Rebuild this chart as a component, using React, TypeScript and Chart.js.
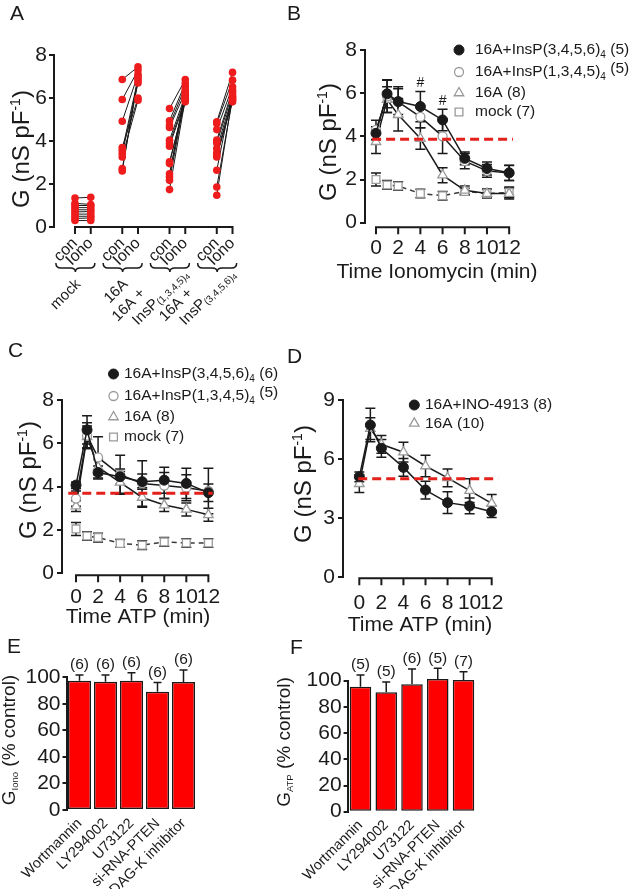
import React, { useEffect, useRef } from 'react';
import { Chart, registerables } from 'chart.js';

Chart.register(...registerables);

const FONT = '"Liberation Sans", Arial, Helvetica, sans-serif';
Chart.defaults.font.family = FONT;

const INK = '#1a1a1a';
const BAR_RED = '#ff0000';
const POINT_RED = '#ee1c1c';
const DASH_RED = '#e3201b';
const MARK_GRAY = '#9a9a9a';

// ---------------- Panel A data ----------------
const aPairLabels = ['con', 'Iono'];
const aGroupLine1 = ['mock', '16A', '16A +', '16A +'];
const aGroupInsP = ['', '', '(1,3,4,5)', '(3,4,5,6)'];
const aConPos = [0, 3, 6, 9];
const aIonoPos = [1, 4, 7, 10];
const aMockCon = [1.35, 1.1, 1.0, 0.9, 0.8, 0.7, 0.6, 0.5, 0.4, 0.3];
const aMockIono = [1.38, 1.05, 1.0, 0.9, 0.8, 0.72, 0.6, 0.5, 0.42, 0.3];
const a16ACon = [6.86, 5.93, 4.92, 3.7, 3.57, 3.42, 3.26, 2.72, 2.61];
const a16AIono = [7.45, 7.3, 7.1, 6.0, 6.9, 6.7, 5.9, 6.8, 7.0];
const a1345Con = [5.51, 4.94, 4.74, 4.63, 4.04, 3.88, 3.76, 3.03, 2.95, 2.48, 2.33, 2.17, 1.74];
const a1345Iono = [6.86, 6.68, 6.52, 6.29, 6.13, 5.98, 5.9, 5.82, 6.0, 6.2, 6.4, 6.1, 5.95];
const a3456Con = [4.89, 4.81, 4.53, 4.04, 3.91, 3.65, 3.45, 3.34, 3.26, 2.64, 1.86, 1.48];
const a3456Iono = [7.19, 6.83, 6.52, 6.37, 6.21, 6.06, 5.9, 5.82, 6.0, 6.3, 5.95, 6.1];
const aYTicks = [0, 2, 4, 6, 8];

// ---------------- Time courses ----------------
const timeMin = [0, 1, 2, 4, 6, 8, 10, 12];
const timeTicks = [0, 2, 4, 6, 8, 10, 12];
const gYTicks = [0, 2, 4, 6, 8];
const dYTicks = [0, 3, 6, 9];

// Panel B (ionomycin)
const bInsP3456 = [4.14, 5.97, 5.61, 5.38, 4.76, 2.98, 2.51, 2.31];
const bInsP3456Err = [0.3, 0.65, 0.6, 0.7, 0.5, 0.3, 0.3, 0.35];
const bInsP1345 = [4.3, 5.85, 5.6, 4.9, 4.0, 2.85, 2.4, 2.3];
const bInsP1345Err = [0.45, 0.75, 0.7, 0.5, 0.8, 0.35, 0.3, 0.35];
const b16A = [3.75, 5.7, 5.0, 3.9, 2.2, 1.5, 1.35, 1.35];
const b16AErr = [0.55, 0.6, 0.75, 0.5, 0.35, 0.2, 0.2, 0.25];
const bMock = [2.0, 1.75, 1.7, 1.35, 1.25, 1.45, 1.35, 1.4];
const bMockErr = [0.3, 0.2, 0.2, 0.2, 0.2, 0.15, 0.2, 0.25];
const bControl = { y: 3.86, from: -0.35, to: 12.35 };
const bSignificant = [false, false, false, true, true, false, false, false];
const bN = [5, 5, 8, 7];

// Panel C (ATP)
const cInsP3456 = [4.07, 6.62, 4.65, 4.46, 4.23, 4.3, 4.15, 3.72];
const cInsP3456Err = [0.15, 0.65, 0.3, 0.35, 0.35, 0.6, 0.7, 0.4];
const cInsP1345 = [3.45, 6.35, 5.35, 4.55, 4.15, 4.05, 3.95, 3.8];
const cInsP1345Err = [0.35, 0.6, 0.95, 0.9, 1.05, 0.6, 0.6, 1.05];
const c16A = [3.1, 6.3, 4.9, 4.2, 3.5, 3.15, 2.95, 2.7];
const c16AErr = [0.25, 0.5, 0.35, 0.5, 0.45, 0.3, 0.3, 0.3];
const cMock = [2.05, 1.72, 1.65, 1.38, 1.3, 1.45, 1.4, 1.4];
const cMockErr = [0.3, 0.2, 0.2, 0.18, 0.2, 0.2, 0.2, 0.2];
const cControl = { y: 3.7, from: -0.7, to: 12.4 };
const cN = [6, 5, 8, 7];

// Panel D (ATP, INO-4913)
const dIno = [5.1, 7.73, 6.55, 5.58, 4.43, 3.79, 3.62, 3.33];
const dInoErr = [0.25, 0.85, 0.45, 0.45, 0.45, 0.55, 0.4, 0.3];
const d16A = [4.75, 7.55, 6.75, 6.35, 5.65, 5.05, 4.4, 3.75];
const d16AErr = [0.45, 0.55, 0.45, 0.5, 0.55, 0.45, 0.6, 0.45];
const dControl = { y: 5.0, from: -0.1, to: 12.6 };
const dN = [8, 10];

// Panels E / F
const barLabels = ['Wortmannin', 'LY294002', 'U73122', 'si-RNA-PTEN', 'DAG-K inhibitor'];
const barYTicks = [0, 20, 40, 60, 80, 100];
const eValues = [97.4, 96.7, 97.4, 89.2, 96.5];
const eErrs = [4.3, 5, 6, 6.8, 9];
const eN = [6, 6, 6, 6, 6];
const fValues = [95.4, 91.1, 97.2, 101.3, 100.5];
const fErrs = [9, 8, 11.7, 8.2, 6.4];
const fN = [5, 5, 6, 5, 7];

// ---------------- helpers ----------------
type Rect = { l: number; t: number; w: number; h: number };
type Area = { left: number; top: number; right: number; bottom: number };
type Seg = { t: string; size?: number; dy?: number };
type TextItem = { segs: Seg[]; x: number; y: number; size: number; rot?: number; align?: 'left' | 'center' | 'right' };
type Sty = { pointStyle: 'circle' | 'triangle' | 'rect'; radius: number; bg: string; border: string; bw: number; line: string; dash: number[] };
type LegendCfg = { markerX: number; textX: number; size: number; items: { sty: Sty; segs: Seg[]; y: number }[] };

const STY_FILLED: Sty = { pointStyle: 'circle', radius: 5, bg: INK, border: INK, bw: 1, line: INK, dash: [] };
const STY_OPEN: Sty = { pointStyle: 'circle', radius: 4.5, bg: '#ffffff', border: MARK_GRAY, bw: 1.3, line: INK, dash: [] };
const STY_TRI: Sty = { pointStyle: 'triangle', radius: 5.5, bg: '#ffffff', border: MARK_GRAY, bw: 1.3, line: INK, dash: [] };
const STY_SQ: Sty = { pointStyle: 'rect', radius: 5.5, bg: '#ffffff', border: MARK_GRAY, bw: 1.3, line: '#3a3a3a', dash: [5, 4] };

function drawRich(ctx: CanvasRenderingContext2D, it: TextItem, ox: number, oy: number) {
  ctx.save();
  ctx.translate(it.x - ox, it.y - oy);
  if (it.rot) ctx.rotate((it.rot * Math.PI) / 180);
  ctx.fillStyle = INK;
  ctx.textBaseline = 'middle';
  ctx.textAlign = 'left';
  const widths = it.segs.map((s) => {
    ctx.font = `${s.size ?? it.size}px ${FONT}`;
    return ctx.measureText(s.t).width;
  });
  const total = widths.reduce((a, b) => a + b, 0);
  let x = it.align === 'left' ? 0 : it.align === 'right' ? -total : -total / 2;
  it.segs.forEach((s, i) => {
    ctx.font = `${s.size ?? it.size}px ${FONT}`;
    ctx.fillText(s.t, x, s.dy ?? 0);
    x += widths[i];
  });
  ctx.restore();
}

function drawMarker(ctx: CanvasRenderingContext2D, s: Sty, x: number, y: number) {
  ctx.save();
  ctx.fillStyle = s.bg;
  ctx.strokeStyle = s.border;
  ctx.lineWidth = s.bw;
  ctx.beginPath();
  if (s.pointStyle === 'circle') ctx.arc(x, y, s.radius, 0, Math.PI * 2);
  else if (s.pointStyle === 'rect') {
    const h = s.radius * Math.SQRT1_2;
    ctx.rect(x - h, y - h, 2 * h, 2 * h);
  } else {
    let a = 0;
    ctx.moveTo(x + Math.sin(a) * s.radius, y - Math.cos(a) * s.radius);
    a += (2 * Math.PI) / 3;
    ctx.lineTo(x + Math.sin(a) * s.radius, y - Math.cos(a) * s.radius);
    a += (2 * Math.PI) / 3;
    ctx.lineTo(x + Math.sin(a) * s.radius, y - Math.cos(a) * s.radius);
  }
  ctx.closePath();
  ctx.fill();
  ctx.stroke();
  ctx.restore();
}

function drawErr(chart: any, mode: 'both' | 'up', cap: number) {
  const ctx: CanvasRenderingContext2D = chart.ctx;
  const ys = chart.scales.y;
  chart.data.datasets.forEach((ds: any, i: number) => {
    const errs: number[] | undefined = ds.errors;
    if (!errs) return;
    const meta = chart.getDatasetMeta(i);
    ctx.save();
    ctx.strokeStyle = INK;
    ctx.lineWidth = 1.5;
    meta.data.forEach((el: any, j: number) => {
      const raw = ds.data[j];
      const v = typeof raw === 'number' ? raw : raw.y;
      const e = errs[j];
      const x = el.x;
      const top = ys.getPixelForValue(v + e);
      const bot = mode === 'both' ? ys.getPixelForValue(v - e) : ys.getPixelForValue(v);
      ctx.beginPath();
      ctx.moveTo(x, top);
      ctx.lineTo(x, bot);
      ctx.moveTo(x - cap, top);
      ctx.lineTo(x + cap, top);
      if (mode === 'both') {
        ctx.moveTo(x - cap, bot);
        ctx.lineTo(x + cap, bot);
      }
      ctx.stroke();
    });
    ctx.restore();
  });
}

function overlay(
  rect: Rect,
  cfg: {
    texts?: TextItem[];
    legend?: LegendCfg;
    axisLine?: { offset: number; len: number };
    err?: { mode: 'both' | 'up'; cap: number };
    extra?: (chart: any, ctx: CanvasRenderingContext2D) => void;
  }
) {
  return {
    id: 'overlay',
    beforeDatasetsDraw(chart: any) {
      if (cfg.err && cfg.err.mode === 'both') drawErr(chart, 'both', cfg.err.cap);
    },
    afterDatasetsDraw(chart: any) {
      if (cfg.err && cfg.err.mode === 'up') drawErr(chart, 'up', cfg.err.cap);
    },
    afterDraw(chart: any) {
      const ctx: CanvasRenderingContext2D = chart.ctx;
      if (cfg.axisLine) {
        const xs = chart.scales.x;
        const ticks = xs.ticks;
        const y = chart.chartArea.bottom + cfg.axisLine.offset;
        ctx.save();
        ctx.strokeStyle = INK;
        ctx.lineWidth = 2;
        ctx.lineCap = 'square';
        ctx.beginPath();
        ctx.moveTo(xs.getPixelForValue(ticks[0].value), y);
        ctx.lineTo(xs.getPixelForValue(ticks[ticks.length - 1].value), y);
        ticks.forEach((t: any) => {
          const px = xs.getPixelForValue(t.value);
          ctx.moveTo(px, y);
          ctx.lineTo(px, y + cfg.axisLine!.len);
        });
        ctx.stroke();
        ctx.restore();
      }
      (cfg.texts || []).forEach((t) => drawRich(ctx, t, rect.l, rect.t));
      if (cfg.legend) {
        const lg = cfg.legend;
        lg.items.forEach((it) => {
          drawMarker(ctx, it.sty, lg.markerX - rect.l, it.y - rect.t);
          drawRich(ctx, { segs: it.segs, x: lg.textX, y: it.y, size: lg.size, align: 'left' }, rect.l, rect.t);
        });
      }
      if (cfg.extra) cfg.extra(chart, ctx);
    },
  };
}

function layoutFor(rect: Rect, area: Area) {
  return {
    padding: { left: 0, top: area.top - rect.t, right: rect.l + rect.w - area.right, bottom: 0 },
    yWidth: area.left - rect.l,
    xHeight: rect.t + rect.h - area.bottom,
  };
}

function yScaleCfg(o: { min: number; max: number; ticks: number[]; width: number; tickLength: number; padding: number }) {
  return {
    type: 'linear',
    min: o.min,
    max: o.max,
    afterBuildTicks: (s: any) => {
      s.ticks = o.ticks.map((v) => ({ value: v }));
    },
    afterFit: (s: any) => {
      s.width = o.width;
    },
    grid: { display: true, drawOnChartArea: false, drawTicks: true, tickLength: o.tickLength, color: INK, lineWidth: 2 },
    border: { display: true, color: INK, width: 2 },
    ticks: { color: INK, font: { family: FONT, size: 21 }, padding: o.padding, autoSkip: false },
  };
}

const baseOptions = (padding: any) => ({
  responsive: false,
  animation: false,
  events: [],
  layout: { padding, autoPadding: false },
  plugins: { legend: { display: false }, tooltip: { enabled: false }, title: { display: false } },
});

const yTitleSegs = (): Seg[] => [{ t: 'G (nS pF' }, { t: '-1', size: 14, dy: -6 }, { t: ')' }];
const Y_TITLE_SIZE = 24;

// ---------------- Panel A ----------------
const A_RECT: Rect = { l: 0, t: 0, w: 290, h: 330 };
const A_AREA: Area = { left: 54, top: 55, right: 240.4, bottom: 227 };

function buildA() {
  const lay = layoutFor(A_RECT, A_AREA);
  const groups = [
    [aMockCon, aMockIono],
    [a16ACon, a16AIono],
    [a1345Con, a1345Iono],
    [a3456Con, a3456Iono],
  ];
  const datasets: any[] = [];
  groups.forEach(([con, iono], g) => {
    datasets.push({
      data: [...con.map((v) => ({ x: aConPos[g], y: v })), ...iono.map((v) => ({ x: aIonoPos[g], y: v }))],
      showLine: false,
      pointRadius: 3.8,
      pointBackgroundColor: POINT_RED,
      pointBorderColor: POINT_RED,
      pointBorderWidth: 0,
      clip: false,
    });
  });
  groups.forEach(([con, iono], g) => {
    con.forEach((v, i) =>
      datasets.push({
        data: [
          { x: aConPos[g], y: v },
          { x: aIonoPos[g], y: iono[i] },
        ],
        borderColor: INK,
        borderWidth: 1,
        pointRadius: 0,
        clip: false,
      })
    );
  });
  const allTicks = [...aConPos, ...aIonoPos].sort((a, b) => a - b);
  return {
    type: 'line',
    data: { datasets },
    options: {
      ...baseOptions(lay.padding),
      scales: {
        x: {
          type: 'linear',
          min: -1.333,
          max: 10.5,
          afterBuildTicks: (s: any) => {
            s.ticks = allTicks.map((v) => ({ value: v }));
          },
          afterFit: (s: any) => {
            s.height = lay.xHeight;
          },
          grid: { display: false, drawTicks: false },
          border: { display: false },
          ticks: {
            color: INK,
            font: { family: FONT, size: 16 },
            padding: 7,
            autoSkip: false,
            minRotation: 45,
            maxRotation: 45,
            callback: (v: number) => (aIonoPos.includes(v) ? aPairLabels[1] : aPairLabels[0]),
          },
        },
        y: yScaleCfg({ min: 0, max: 8, ticks: aYTicks, width: lay.yWidth, tickLength: 5, padding: 2 }),
      },
    },
    plugins: [
      overlay(A_RECT, {
        axisLine: { offset: 0, len: 6 },
        texts: [
          { segs: [{ t: 'A' }], x: 10, y: 14.5, size: 21, align: 'left' },
          { segs: yTitleSegs(), x: 22, y: 149, size: Y_TITLE_SIZE, rot: -90, align: 'center' },
        ],
        extra: (chart, ctx) => {
          const xs = chart.scales.x;
          const base = chart.chartArea.bottom;
          aConPos.forEach((c, g) => {
            const cx = (xs.getPixelForValue(c) + xs.getPixelForValue(aIonoPos[g])) / 2;
            const l = cx - 27;
            const r = cx + 12;
            const m = (l + r) / 2;
            const yT = base + 36;
            const yS = base + 41;
            const yD = base + 45;
            ctx.save();
            ctx.strokeStyle = INK;
            ctx.lineWidth = 1.5;
            ctx.beginPath();
            ctx.moveTo(l, yT);
            ctx.quadraticCurveTo(l, yS, l + 5, yS);
            ctx.lineTo(m - 5, yS);
            ctx.quadraticCurveTo(m, yS, m, yD);
            ctx.quadraticCurveTo(m, yS, m + 5, yS);
            ctx.lineTo(r - 5, yS);
            ctx.quadraticCurveTo(r, yS, r, yT);
            ctx.stroke();
            ctx.restore();
            if (!aGroupInsP[g]) {
              drawRich(ctx, { segs: [{ t: aGroupLine1[g] }], x: cx - 4.5, y: base + 55, size: 15, rot: -45, align: 'right' }, 0, 0);
            } else {
              drawRich(ctx, { segs: [{ t: aGroupLine1[g] }], x: cx - 34.5, y: base + 64, size: 15, rot: -45, align: 'right' }, 0, 0);
              drawRich(
                ctx,
                {
                  segs: [{ t: 'InsP' }, { t: aGroupInsP[g], size: 10, dy: 3 }, { t: '4', size: 8, dy: 5 }],
                  x: cx + 8.5,
                  y: base + 45,
                  size: 15,
                  rot: -45,
                  align: 'right',
                },
                0,
                0
              );
            }
          });
        },
      }),
    ],
  };
}

// ---------------- Time-course builder ----------------
function timeCourse(o: {
  rect: Rect;
  area: Area;
  xMin: number;
  xMax: number;
  yMax: number;
  yTicks: number[];
  series: { values: number[]; errs: number[]; sty: Sty }[];
  control: { y: number; from: number; to: number };
  xPad: number;
  axisOffset: number;
  texts: TextItem[];
  legend: LegendCfg;
  extra?: (chart: any, ctx: CanvasRenderingContext2D) => void;
}) {
  const lay = layoutFor(o.rect, o.area);
  const datasets: any[] = [
    {
      data: [
        { x: o.control.from, y: o.control.y },
        { x: o.control.to, y: o.control.y },
      ],
      borderColor: DASH_RED,
      borderWidth: 3,
      borderDash: [9, 5],
      pointRadius: 0,
      clip: false,
    },
    ...o.series.map((s) => ({
      data: timeMin.map((t, i) => ({ x: t, y: s.values[i] })),
      errors: s.errs,
      borderColor: s.sty.line,
      borderWidth: 1.5,
      borderDash: s.sty.dash,
      pointStyle: s.sty.pointStyle,
      pointRadius: s.sty.radius,
      pointBackgroundColor: s.sty.bg,
      pointBorderColor: s.sty.border,
      pointBorderWidth: s.sty.bw,
      tension: 0,
      clip: false,
    })),
  ];
  return {
    type: 'line',
    data: { datasets },
    options: {
      ...baseOptions(lay.padding),
      scales: {
        x: {
          type: 'linear',
          min: o.xMin,
          max: o.xMax,
          afterBuildTicks: (s: any) => {
            s.ticks = timeTicks.map((v) => ({ value: v }));
          },
          afterFit: (s: any) => {
            s.height = lay.xHeight;
          },
          grid: { display: false, drawTicks: false },
          border: { display: false },
          ticks: { color: INK, font: { family: FONT, size: 21 }, padding: o.xPad, autoSkip: false, minRotation: 0, maxRotation: 0 },
        },
        y: yScaleCfg({ min: 0, max: o.yMax, ticks: o.yTicks, width: lay.yWidth, tickLength: 5, padding: 3 }),
      },
    },
    plugins: [
      overlay(o.rect, {
        axisLine: { offset: o.axisOffset, len: 6 },
        err: { mode: 'both', cap: 5 },
        texts: o.texts,
        legend: o.legend,
        extra: o.extra,
      }),
    ],
  };
}

const insp3456Segs = (n: number): Seg[] => [{ t: '16A+InsP(3,4,5,6)' }, { t: '4', size: 10, dy: 5 }, { t: ` (${n})` }];
const insp1345Segs = (n: number): Seg[] => [{ t: '16A+InsP(1,3,4,5)' }, { t: '4', size: 10, dy: 5 }, { t: ` (${n})`, dy: -3 }];

const B_RECT: Rect = { l: 280, t: 0, w: 349, h: 300 };
const B_AREA: Area = { left: 365, top: 50, right: 513.6, bottom: 222.7 };
function buildB() {
  return timeCourse({
    rect: B_RECT,
    area: B_AREA,
    xMin: -0.99,
    xMax: 12.4,
    yMax: 8,
    yTicks: gYTicks,
    series: [
      { values: bInsP3456, errs: bInsP3456Err, sty: STY_FILLED },
      { values: bInsP1345, errs: bInsP1345Err, sty: STY_OPEN },
      { values: b16A, errs: b16AErr, sty: STY_TRI },
      { values: bMock, errs: bMockErr, sty: STY_SQ },
    ],
    control: bControl,
    xPad: 12.7,
    axisOffset: 4.5,
    texts: [
      { segs: [{ t: 'B' }], x: 287, y: 14.5, size: 21, align: 'left' },
      { segs: yTitleSegs(), x: 329, y: 142, size: Y_TITLE_SIZE, rot: -90, align: 'center' },
      { segs: [{ t: 'Time Ionomycin (min)' }], x: 437, y: 272, size: 21, align: 'center' },
    ],
    legend: {
      markerX: 459,
      textX: 475,
      size: 15.5,
      items: [
        { sty: STY_FILLED, segs: insp3456Segs(bN[0]), y: 50 },
        { sty: STY_OPEN, segs: insp1345Segs(bN[1]), y: 72 },
        { sty: STY_TRI, segs: [{ t: `16A (${bN[2]})` }], y: 93 },
        { sty: STY_SQ, segs: [{ t: `mock (${bN[3]})` }], y: 112 },
      ],
    },
    extra: (chart, ctx) => {
      const xs = chart.scales.x;
      const ys = chart.scales.y;
      bSignificant.forEach((sig, i) => {
        if (!sig) return;
        drawRich(
          ctx,
          {
            segs: [{ t: '#' }],
            x: xs.getPixelForValue(timeMin[i]),
            y: ys.getPixelForValue(bInsP3456[i] + bInsP3456Err[i]) - 8,
            size: 14,
            align: 'center',
          },
          0,
          0
        );
      });
    },
  });
}

const C_RECT: Rect = { l: 0, t: 330, w: 290, h: 310 };
const C_AREA: Area = { left: 62, top: 400, right: 213.9, bottom: 573.3 };
function buildC() {
  return timeCourse({
    rect: C_RECT,
    area: C_AREA,
    xMin: -1.27,
    xMax: 12.5,
    yMax: 8,
    yTicks: gYTicks,
    series: [
      { values: cInsP3456, errs: cInsP3456Err, sty: STY_FILLED },
      { values: cInsP1345, errs: cInsP1345Err, sty: STY_OPEN },
      { values: c16A, errs: c16AErr, sty: STY_TRI },
      { values: cMock, errs: cMockErr, sty: STY_SQ },
    ],
    control: cControl,
    xPad: 11.3,
    axisOffset: 2,
    texts: [
      { segs: [{ t: 'C' }], x: 8, y: 351.5, size: 21, align: 'left' },
      { segs: yTitleSegs(), x: 29.5, y: 480, size: Y_TITLE_SIZE, rot: -90, align: 'center' },
      { segs: [{ t: 'Time ATP (min)' }], x: 138, y: 617, size: 21, align: 'center' },
    ],
    legend: {
      markerX: 113.5,
      textX: 124,
      size: 15.5,
      items: [
        { sty: STY_FILLED, segs: insp3456Segs(cN[0]), y: 374 },
        { sty: STY_OPEN, segs: insp1345Segs(cN[1]), y: 396 },
        { sty: STY_TRI, segs: [{ t: `16A (${cN[2]})` }], y: 417 },
        { sty: STY_SQ, segs: [{ t: `mock (${cN[3]})` }], y: 437 },
      ],
    },
  });
}

const D_RECT: Rect = { l: 280, t: 330, w: 349, h: 310 };
const D_AREA: Area = { left: 343, top: 400, right: 499.4, bottom: 577.3 };
function buildD() {
  return timeCourse({
    rect: D_RECT,
    area: D_AREA,
    xMin: -1.48,
    xMax: 12.7,
    yMax: 9,
    yTicks: dYTicks,
    series: [
      { values: dIno, errs: dInoErr, sty: STY_FILLED },
      { values: d16A, errs: d16AErr, sty: STY_TRI },
    ],
    control: dControl,
    xPad: 12.9,
    axisOffset: 1,
    texts: [
      { segs: [{ t: 'D' }], x: 287, y: 357, size: 21, align: 'left' },
      { segs: yTitleSegs(), x: 304.5, y: 484, size: Y_TITLE_SIZE, rot: -90, align: 'center' },
      { segs: [{ t: 'Time ATP (min)' }], x: 420, y: 625, size: 21, align: 'center' },
    ],
    legend: {
      markerX: 414.3,
      textX: 425,
      size: 15.5,
      items: [
        { sty: STY_FILLED, segs: [{ t: `16A+INO-4913 (${dN[0]})` }], y: 405 },
        { sty: STY_TRI, segs: [{ t: `16A (${dN[1]})` }], y: 423.3 },
      ],
    },
  });
}

// ---------------- Bar builder ----------------
function barPanel(o: {
  rect: Rect;
  area: Area;
  values: number[];
  errs: number[];
  n: number[];
  barPct: number;
  letter: string;
  letterX: number;
  letterY: number;
  titleSub: string;
  titleX: number;
  titleY: number;
}) {
  const lay = layoutFor(o.rect, o.area);
  return {
    type: 'bar',
    data: {
      labels: barLabels,
      datasets: [
        {
          data: o.values,
          errors: o.errs,
          backgroundColor: BAR_RED,
          borderColor: INK,
          borderWidth: 1.5,
          borderSkipped: false,
          barPercentage: o.barPct,
          categoryPercentage: 1,
          clip: false,
        },
      ],
    },
    options: {
      ...baseOptions(lay.padding),
      scales: {
        x: {
          afterFit: (s: any) => {
            s.height = lay.xHeight;
          },
          grid: { display: false, drawTicks: false },
          border: { display: false },
          ticks: { color: INK, font: { family: FONT, size: 14.5 }, padding: 5, autoSkip: false, minRotation: 45, maxRotation: 45 },
        },
        y: yScaleCfg({ min: 0, max: 100, ticks: barYTicks, width: lay.yWidth, tickLength: 4, padding: 2 }),
      },
    },
    plugins: [
      overlay(o.rect, {
        err: { mode: 'up', cap: 4 },
        texts: [
          { segs: [{ t: o.letter }], x: o.letterX, y: o.letterY, size: 21, align: 'left' },
          {
            segs: [{ t: 'G' }, { t: o.titleSub, size: 9.5, dy: 5 }, { t: ' (% control)' }],
            x: o.titleX,
            y: o.titleY,
            size: 19,
            rot: -90,
            align: 'center',
          },
        ],
        extra: (chart, ctx) => {
          const ys = chart.scales.y;
          const meta = chart.getDatasetMeta(0);
          meta.data.forEach((el: any, i: number) => {
            drawRich(
              ctx,
              { segs: [{ t: `(${o.n[i]})` }], x: el.x, y: ys.getPixelForValue(o.values[i] + o.errs[i]) - 10, size: 15.5, align: 'center' },
              0,
              0
            );
          });
        },
      }),
    ],
  };
}

const E_RECT: Rect = { l: 0, t: 630, w: 280, h: 259 };
const E_AREA: Area = { left: 66.5, top: 677.3, right: 196.5, bottom: 810 };
const F_RECT: Rect = { l: 260, t: 630, w: 369, h: 259 };
const F_AREA: Area = { left: 347.6, top: 680.7, right: 476.4, bottom: 811.7 };

function buildE() {
  return barPanel({
    rect: E_RECT,
    area: E_AREA,
    values: eValues,
    errs: eErrs,
    n: eN,
    barPct: 0.885,
    letter: 'E',
    letterX: 7,
    letterY: 647.5,
    titleSub: 'Iono',
    titleX: 10,
    titleY: 740,
  });
}
function buildF() {
  return barPanel({
    rect: F_RECT,
    area: F_AREA,
    values: fValues,
    errs: fErrs,
    n: fN,
    barPct: 0.835,
    letter: 'F',
    letterX: 290,
    letterY: 648.5,
    titleSub: 'ATP',
    titleX: 285,
    titleY: 742,
  });
}

// ---------------- React ----------------
function Panel({ rect, build }: { rect: Rect; build: () => any }) {
  const ref = useRef<HTMLCanvasElement>(null);
  useEffect(() => {
    const chart = new Chart(ref.current as HTMLCanvasElement, build() as any);
    return () => chart.destroy();
  }, []);
  return (
    <canvas
      ref={ref}
      width={rect.w}
      height={rect.h}
      style={{ position: 'absolute', left: rect.l, top: rect.t, width: rect.w, height: rect.h, display: 'block' }}
    />
  );
}

export default function App() {
  return (
    <div style={{ position: 'absolute', left: 0, top: 0, width: 629, height: 889, background: '#ffffff', overflow: 'hidden' }}>
      <Panel rect={A_RECT} build={buildA} />
      <Panel rect={B_RECT} build={buildB} />
      <Panel rect={C_RECT} build={buildC} />
      <Panel rect={D_RECT} build={buildD} />
      <Panel rect={E_RECT} build={buildE} />
      <Panel rect={F_RECT} build={buildF} />
    </div>
  );
}
